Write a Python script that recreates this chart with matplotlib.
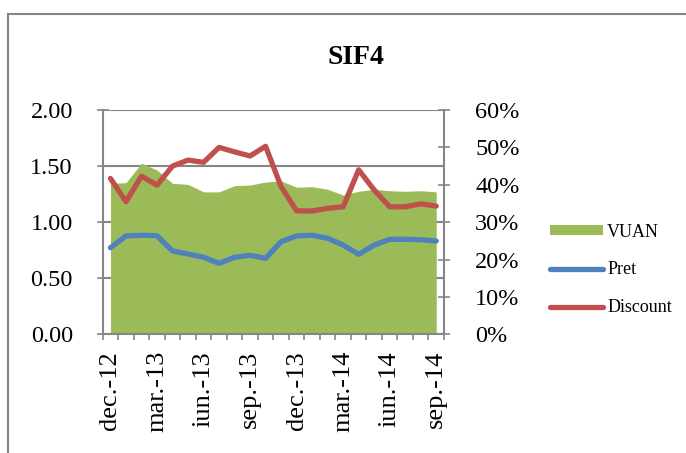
import matplotlib.pyplot as plt
from matplotlib.patches import Rectangle, Patch
from matplotlib.lines import Line2D
from matplotlib.ticker import FuncFormatter

plt.rcParams['font.family'] = ['Liberation Serif', 'DejaVu Serif']

# luni dec.-12 ... sep.-14
luni = ['dec.-12', 'ian.-13', 'feb.-13', 'mar.-13', 'apr.-13', 'mai.-13', 'iun.-13',
        'iul.-13', 'aug.-13', 'sep.-13', 'oct.-13', 'nov.-13', 'dec.-13', 'ian.-14',
        'feb.-14', 'mar.-14', 'apr.-14', 'mai.-14', 'iun.-14', 'iul.-14', 'aug.-14', 'sep.-14']
vuan = [1.346, 1.352, 1.525, 1.465, 1.346, 1.337, 1.270, 1.270, 1.325, 1.331, 1.358,
        1.368, 1.311, 1.316, 1.293, 1.242, 1.275, 1.293, 1.280, 1.275, 1.280, 1.270]
pret = [0.772, 0.877, 0.883, 0.879, 0.743, 0.716, 0.687, 0.633, 0.687, 0.704, 0.678,
        0.826, 0.877, 0.883, 0.856, 0.796, 0.713, 0.796, 0.847, 0.847, 0.843, 0.832]
discount = [41.7, 35.5, 42.3, 39.9, 45.0, 46.6, 46.0, 50.0, 48.8, 47.7, 50.3,
            39.5, 33.0, 33.0, 33.7, 34.1, 44.0, 38.6, 34.1, 34.1, 34.9, 34.3]

verde = '#9BBB59'
albastru = '#4F81BD'
rosu = '#C0504D'
gri = '#868686'

fig = plt.figure(figsize=(6.86, 4.53), dpi=100)
ax = fig.add_axes([102.7 / 686, 1 - 334.3 / 453, (444 - 102.7) / 686, (334.3 - 110) / 453])

# chenarul graficului
fig.patches.append(Rectangle((8 / 686, -0.1), 1.2, (453 - 14) / 453 + 0.1,
                             transform=fig.transFigure, fill=False,
                             edgecolor=gri, linewidth=1.5))

x = list(range(len(luni)))
ax.fill_between(x, vuan, 0, color=verde, linewidth=0, zorder=2)
ax.plot(x, pret, color=albastru, linewidth=3.8, solid_capstyle='round', zorder=3)

ax2 = ax.twinx()
ax2.plot(x, discount, color=rosu, linewidth=3.8, solid_capstyle='round', zorder=3)

ax.set_xlim(-0.5, len(luni) - 0.5)
ax.set_ylim(0, 2)
ax2.set_ylim(0, 60)

ax.set_yticks([0, 0.5, 1.0, 1.5, 2.0])
ax.yaxis.set_major_formatter(FuncFormatter(lambda v, p: f'{v:.2f}'))
ax2.set_yticks(range(0, 61, 10))
ax2.yaxis.set_major_formatter(FuncFormatter(lambda v, p: f'{v:.0f}%'))
ax.grid(axis='y', color=gri, linewidth=1.5, zorder=0)
ax.set_axisbelow(True)

ax.set_xticks(x[::3])
ax.set_xticklabels(luni[::3], rotation=90)
ax.set_xticks([i - 0.5 for i in range(len(luni) + 1)], minor=True)
ax.tick_params(axis='x', which='major', length=0, labelsize=19, pad=12)
ax.tick_params(axis='x', which='minor', length=8, width=1.2, color=gri, direction='inout')
ax.tick_params(axis='y', labelsize=17.5, length=9, width=1.2, color=gri, direction='inout', pad=17)
ax2.tick_params(axis='y', labelsize=17.5, length=9, width=1.2, color=gri, direction='inout', pad=18)

for a in (ax, ax2):
    a.spines['top'].set_visible(False)
    for s in ('left', 'right', 'bottom'):
        a.spines[s].set_color(gri)
        a.spines[s].set_linewidth(1.5)
ax.spines['right'].set_visible(False)
ax2.spines['left'].set_visible(False)
ax2.spines['bottom'].set_visible(False)

fig.text(356 / 686, 1 - 58 / 453, 'SIF4', ha='center', va='center',
         fontsize=20, fontweight='bold')

handles = [Patch(facecolor=verde, edgecolor='none'),
           Line2D([], [], color=albastru, linewidth=3.8, solid_capstyle='round'),
           Line2D([], [], color=rosu, linewidth=3.8, solid_capstyle='round')]
fig.legend(handles, ['VUAN', 'Pret', 'Discount'], loc='center left',
           bbox_to_anchor=(534 / 686, 1 - 270 / 453), frameon=False, fontsize=13,
           handlelength=2.9, handleheight=0.45, labelspacing=1.15, handletextpad=0.25)

fig.savefig('out.png', dpi=100)
